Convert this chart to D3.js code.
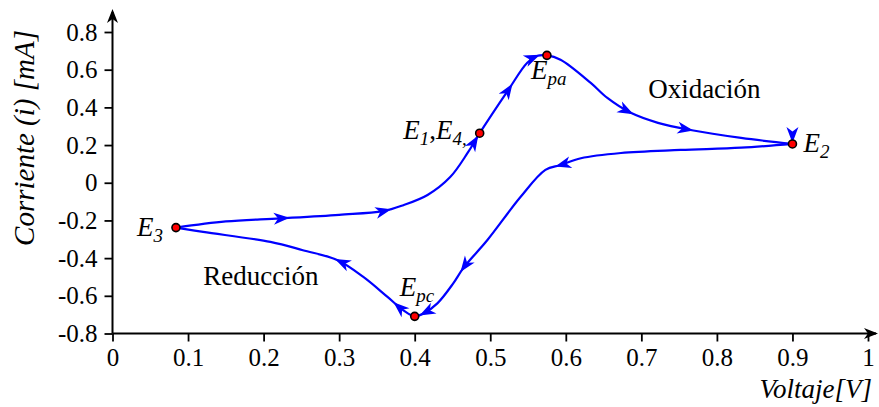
<!DOCTYPE html>
<html>
<head>
<meta charset="utf-8">
<script src="https://cdn.jsdelivr.net/npm/d3@7"></script>
</head>
<body style="margin:0">
<svg width="879" height="407" font-family="Liberation Serif"></svg>
<script>
// ticks
var xTicks = [0, 0.1, 0.2, 0.3, 0.4, 0.5, 0.6, 0.7, 0.8, 0.9, 1];
var xTickLabels = ["0", "0.1", "0.2", "0.3", "0.4", "0.5", "0.6", "0.7", "0.8", "0.9", "1"];
var yTicks = [-0.8, -0.6, -0.4, -0.2, 0, 0.2, 0.4, 0.6, 0.8];
var yTickLabels = ["-0.8", "-0.6", "-0.4", "-0.2", "0", "0.2", "0.4", "0.6", "0.8"];

// barrido anodico (E3 -> E2) y catodico (E2 -> E3), [voltaje, corriente]
var anodico = [
  [0.084, -0.238], [0.15, -0.205], [0.222, -0.189], [0.30, -0.17], [0.358, -0.151],
  [0.385, -0.119], [0.417, -0.065], [0.447, 0.03], [0.47, 0.158], [0.486, 0.263],
  [0.524, 0.493], [0.549, 0.637], [0.563, 0.674], [0.575, 0.676], [0.593, 0.653],
  [0.633, 0.53], [0.655, 0.45], [0.686, 0.371], [0.722, 0.318], [0.765, 0.28],
  [0.832, 0.238], [0.9, 0.206]
];
var catodico = [
  [0.9, 0.206], [0.832, 0.186], [0.752, 0.174], [0.673, 0.158], [0.62, 0.13],
  [0.593, 0.094], [0.573, 0.068], [0.54, -0.076], [0.496, -0.305], [0.465, -0.449],
  [0.451, -0.534], [0.43, -0.64], [0.412, -0.693], [0.4, -0.709], [0.385, -0.677],
  [0.364, -0.606], [0.332, -0.5], [0.298, -0.411], [0.252, -0.358], [0.209, -0.314],
  [0.12, -0.261], [0.084, -0.238]
];
// voltajes donde van las flechas
var flechasAnodico = [0.23, 0.365, 0.482, 0.527, 0.562, 0.686, 0.765];
var flechasCatodico = [0.59, 0.463, 0.41, 0.375, 0.298];

// puntos marcados
var puntos = [[0.486, 0.263], [0.575, 0.676], [0.9, 0.206], [0.4, -0.709], [0.084, -0.238]];
var etiquetas = [
  [["E", 0], ["1", 1], [",", 0], ["E", 0], ["4,", 1]],
  [["E", 0], ["pa", 1]],
  [["E", 0], ["2", 1]],
  [["E", 0], ["pc", 1]],
  [["E", 0], ["3", 1]]
];
var textos = ["Oxidación", "Reducción"];

var svg = d3.select("svg"),
  width = +svg.attr("width"),
  height = +svg.attr("height");

var x = d3.scaleLinear().domain([0, 1]).range([112.5, 868]),
  y = d3.scaleLinear().domain([-0.8, 0.8]).range([333.5, 32]);

var ejes = svg.append("g"),
  curva = svg.append("g"),
  marcas = svg.append("g");

// CURVA
var linea = d3.line()
  .x(function(d) { return x(d[0]); })
  .y(function(d) { return y(d[1]); })
  .curve(d3.curveCatmullRom.alpha(0.5));

var flecha = "M3,0 L-13,-6 L-8.5,0 L-13,6 Z";

// segmentos bezier de la curva, sin medir el DOM
function segmentos(datos) {
  var segs = [], cur = null;
  var ctx = {
    moveTo: function(a, b) { cur = [a, b]; },
    lineTo: function(a, b) { segs.push([cur, cur, [a, b], [a, b]]); cur = [a, b]; },
    bezierCurveTo: function(a, b, c, d, e, f) { segs.push([cur, [a, b], [c, d], [e, f]]); cur = [e, f]; },
    closePath: function() {}
  };
  linea.context(ctx)(datos);
  linea.context(null);
  return segs;
}

function bez(s, t) {
  var u = 1 - t;
  return [0, 1].map(function(k) {
    return u * u * u * s[0][k] + 3 * u * u * t * s[1][k] + 3 * u * t * t * s[2][k] + t * t * t * s[3][k];
  });
}

function dibuja_rama(datos, flechas) {
  curva.append("path")
    .attr("d", linea(datos))
    .attr("fill", "none")
    .attr("stroke", "#0000ff")
    .attr("stroke-width", 2.2);
  var muestras = [];
  segmentos(datos).forEach(function(s) {
    for (var i = 0; i <= 100; i++) muestras.push(bez(s, i / 100));
  });
  flechas.forEach(function(v) {
    var px = x(v), k = 1;
    for (var i = 1; i < muestras.length; i++) {
      if ((muestras[i - 1][0] - px) * (muestras[i][0] - px) <= 0) { k = i; break; }
    }
    var a = muestras[k], j = k - 1;
    while (j > 0 && Math.hypot(a[0] - muestras[j][0], a[1] - muestras[j][1]) < 2) j--;
    var b = muestras[j];
    var ang = Math.atan2(a[1] - b[1], a[0] - b[0]) * 180 / Math.PI;
    curva.append("path")
      .attr("d", flecha)
      .attr("fill", "#0000ff")
      .attr("transform", "translate(" + a[0] + "," + a[1] + ") rotate(" + ang + ")");
  });
}

dibuja_rama(anodico, flechasAnodico);
dibuja_rama(catodico, flechasCatodico);

// flecha hacia abajo en E2
curva.append("path")
  .attr("d", flecha)
  .attr("fill", "#0000ff")
  .attr("transform", "translate(" + x(puntos[2][0]) + "," + (y(puntos[2][1]) - 4) + ") rotate(90)");

// PUNTOS
marcas.selectAll("circle")
  .data(puntos)
  .enter().append("circle")
  .attr("cx", function(d) { return x(d[0]); })
  .attr("cy", function(d) { return y(d[1]); })
  .attr("r", 4)
  .attr("fill", "#ff0000")
  .attr("stroke", "#000")
  .attr("stroke-width", 1.6);

// EJES
var ejeX = d3.axisBottom(x)
  .tickValues(xTicks)
  .tickFormat(function(d, i) { return xTickLabels[i]; })
  .tickSize(8).tickPadding(7).tickSizeOuter(0);
var ejeY = d3.axisLeft(y)
  .tickValues(yTicks)
  .tickFormat(function(d, i) { return yTickLabels[i]; })
  .tickSize(8).tickPadding(7).tickSizeOuter(0);

var gx = ejes.append("g").attr("transform", "translate(0," + y(-0.8) + ")").call(ejeX);
var gy = ejes.append("g").attr("transform", "translate(" + x(0) + ",0)").call(ejeY);
[gx, gy].forEach(function(g) {
  g.attr("font-family", null).attr("font-size", null);
  g.select(".domain").remove();
  g.selectAll("line").attr("stroke", "#000").attr("stroke-width", 1.8);
  g.selectAll("text").style("font-family", "'Liberation Serif'").style("font-size", "25px").attr("fill", "#000");
});

var puntaEje = "M0,0 L-14,-5.5 L-10,0 L-14,5.5 Z";
ejes.append("line")
  .attr("x1", x(0)).attr("x2", width - 3)
  .attr("y1", y(-0.8)).attr("y2", y(-0.8))
  .attr("stroke", "#000").attr("stroke-width", 2);
ejes.append("path").attr("d", puntaEje)
  .attr("transform", "translate(" + (width - 1) + "," + y(-0.8) + ")");
ejes.append("line")
  .attr("x1", x(0)).attr("x2", x(0))
  .attr("y1", y(-0.8)).attr("y2", 12)
  .attr("stroke", "#000").attr("stroke-width", 2);
ejes.append("path").attr("d", puntaEje)
  .attr("transform", "translate(" + x(0) + ",9) rotate(-90)");

ejes.append("text")
  .attr("x", 872).attr("y", 398)
  .attr("text-anchor", "end")
  .style("font-family", "'Liberation Serif'")
  .style("font-size", "27px").style("font-style", "italic")
  .text("Voltaje[V]");
ejes.append("text")
  .attr("transform", "translate(34,138) rotate(-90)")
  .attr("text-anchor", "middle")
  .style("font-family", "'Liberation Serif'")
  .style("font-size", "29px").style("font-style", "italic")
  .text("Corriente (i) [mA]");

// etiquetas: [dx, dy, anchor] respecto del punto
var desplaz = [[-13, 6, "end"], [-16, 24, "start"], [11, 8, "start"], [-15, -20, "start"], [-13, 8, "end"]];

etiquetas.forEach(function(partes, k) {
  var t = marcas.append("text")
    .attr("x", x(puntos[k][0]) + desplaz[k][0])
    .attr("y", y(puntos[k][1]) + desplaz[k][1])
    .attr("text-anchor", desplaz[k][2])
    .style("font-family", "'Liberation Serif'")
    .style("font-size", "27px");
  var abajo = false;
  partes.forEach(function(s) {
    var ts = t.append("tspan").text(s[0]);
    if (s[0] !== ",") ts.style("font-style", "italic");
    if (s[1] && !abajo) { ts.attr("dy", 6).style("font-size", "19px"); abajo = true; }
    else if (s[1]) { ts.style("font-size", "19px"); }
    else if (abajo) { ts.attr("dy", -6); abajo = false; }
  });
});

marcas.append("text")
  .attr("x", x(0.709)).attr("y", y(0.45))
  .style("font-family", "'Liberation Serif'")
  .style("font-size", "27px")
  .text(textos[0]);
marcas.append("text")
  .attr("x", x(0.12)).attr("y", y(-0.544))
  .style("font-family", "'Liberation Serif'")
  .style("font-size", "27px")
  .text(textos[1]);
</script>
</body>
</html>
